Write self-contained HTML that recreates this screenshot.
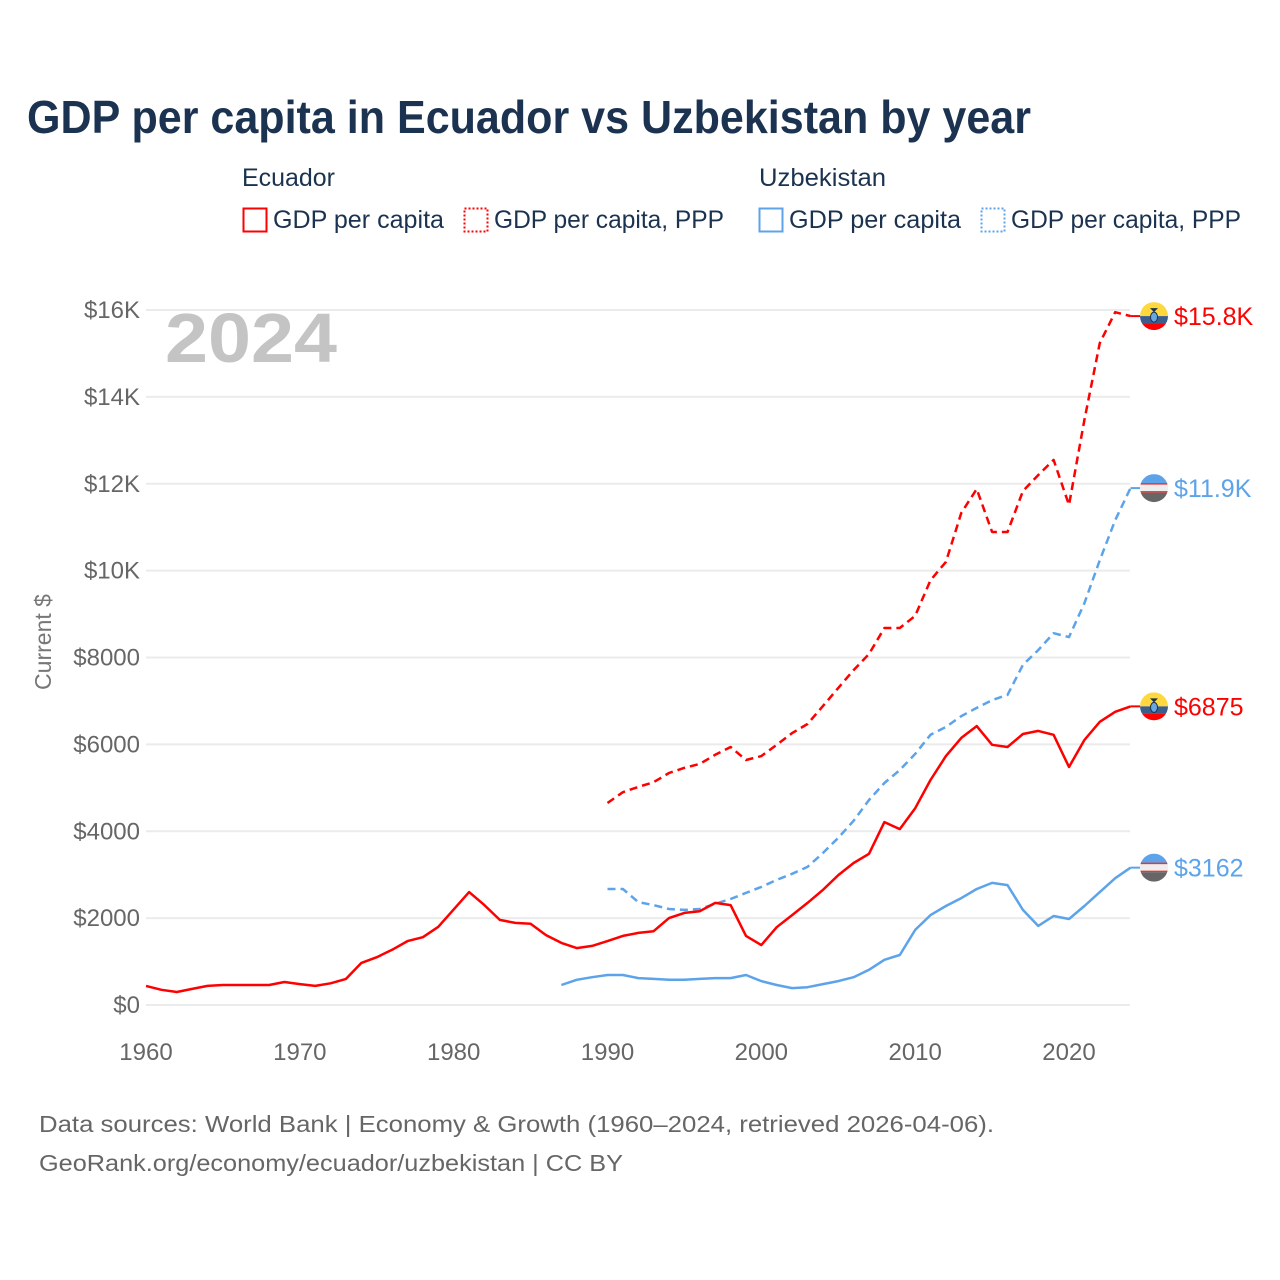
<!DOCTYPE html>
<html><head><meta charset="utf-8"><style>
html,body{margin:0;padding:0;background:#fff;}
svg{display:block;font-family:"Liberation Sans",sans-serif;}
</style></head><body>
<svg id="chart" width="1280" height="1280" viewBox="0 0 1280 1280">
<text x="27" y="133" font-size="46" font-weight="bold" fill="#1b3350" textLength="1004" lengthAdjust="spacingAndGlyphs">GDP per capita in Ecuador vs Uzbekistan by year</text>
<g font-size="25" fill="#1b3350">
<text x="242" y="186" textLength="93" lengthAdjust="spacingAndGlyphs">Ecuador</text>
<text x="759" y="186" textLength="127" lengthAdjust="spacingAndGlyphs">Uzbekistan</text>
<g><rect x="243.5" y="208.5" width="23" height="23" fill="none" stroke="#ff0000" stroke-width="2"/><text x="273" y="228" textLength="171" lengthAdjust="spacingAndGlyphs">GDP per capita</text></g>
<g><rect x="464.5" y="208.5" width="23" height="23" fill="none" stroke="#ff0000" stroke-width="2" stroke-dasharray="2,2"/><text x="494" y="228" textLength="230" lengthAdjust="spacingAndGlyphs">GDP per capita, PPP</text></g>
<g><rect x="759.5" y="208.5" width="23" height="23" fill="none" stroke="#5ca3ea" stroke-width="2"/><text x="789" y="228" textLength="172" lengthAdjust="spacingAndGlyphs">GDP per capita</text></g>
<g><rect x="981.5" y="208.5" width="23" height="23" fill="none" stroke="#5ca3ea" stroke-width="2" stroke-dasharray="2,2"/><text x="1011" y="228" textLength="230" lengthAdjust="spacingAndGlyphs">GDP per capita, PPP</text></g>
</g>
<g id="grid"></g>
<g id="yticks" font-size="24" fill="#666" text-anchor="end"></g>
<g id="xticks" font-size="24" fill="#666" text-anchor="middle"></g>
<text x="0" y="0" transform="translate(51,642) rotate(-90)" font-size="23" fill="#777" text-anchor="middle">Current $</text>
<text x="165" y="362" font-size="70" font-weight="bold" fill="#c4c4c4" textLength="172" lengthAdjust="spacingAndGlyphs">2024</text>
<g id="series"></g>
<g id="ends"></g>
<g font-size="23" fill="#666">
<text x="39" y="1132" textLength="955" lengthAdjust="spacingAndGlyphs">Data sources: World Bank | Economy &amp; Growth (1960–2024, retrieved 2026-04-06).</text>
<text x="39" y="1171" textLength="584" lengthAdjust="spacingAndGlyphs">GeoRank.org/economy/ecuador/uzbekistan | CC BY</text>
</g>
</svg>
<script>
const ecuGdpStart = 1960;
const ecuGdp = [440,350,300,370,440,460,460,460,460,530,480,440,500,600,970,1100,1270,1470,1560,1800,2200,2600,2300,1960,1890,1870,1610,1430,1310,1360,1470,1590,1660,1700,2000,2120,2160,2350,2300,1590,1380,1790,2070,2350,2650,2990,3270,3480,4210,4050,4530,5180,5730,6150,6420,5990,5940,6240,6310,6220,5480,6100,6520,6750,6875];
const ecuPppStart = 1990;
const ecuPpp = [4650,4900,5020,5130,5340,5460,5550,5760,5940,5640,5730,5990,6260,6470,6880,7300,7710,8080,8680,8680,8960,9780,10200,11330,11880,10890,10890,11830,12200,12550,11510,13470,15240,15950,15860];
const uzbGdpStart = 1987;
const uzbGdp = [460,580,640,690,690,620,600,580,580,600,620,620,690,550,460,390,410,480,550,640,810,1040,1150,1730,2070,2280,2460,2670,2810,2760,2190,1820,2050,1980,2280,2600,2920,3162];
const uzbPppStart = 1990;
const uzbPpp = [2670,2670,2370,2300,2210,2190,2210,2330,2440,2580,2720,2880,3020,3180,3500,3850,4240,4720,5110,5410,5780,6220,6400,6650,6840,7020,7140,7830,8170,8560,8470,9250,10240,11160,11900];
const yTicks = [0,2000,4000,6000,8000,10000,12000,14000,16000];
const yTickLabels = ["$0","$2000","$4000","$6000","$8000","$10K","$12K","$14K","$16K"];
const xTicks = [1960,1970,1980,1990,2000,2010,2020];
const endLabels = ["$15.8K","$11.9K","$6875","$3162"];

const NS="http://www.w3.org/2000/svg";
const X = yr => 146 + (yr-1960)*(1069-146)/60;
const Y = v => 1005 - v*(1005-310)/16000;
function mk(tag, attrs, parent){const e=document.createElementNS(NS,tag);for(const k in attrs)e.setAttribute(k,attrs[k]);parent.appendChild(e);return e;}
const grid=document.getElementById('grid'), yt=document.getElementById('yticks'), xt=document.getElementById('xticks');
yTicks.forEach((v,i)=>{
  const l=mk('line',{x1:146,x2:1130,y1:Y(v),y2:Y(v),stroke:'#ebebeb','stroke-width':2},grid);
  
  
  const t=mk('text',{x:140,y:Y(v)+8},yt); t.textContent=yTickLabels[i];
  
  
});
xTicks.forEach(yr=>{
  const t=mk('text',{x:X(yr),y:1060},xt); t.textContent=yr;
  
  
});
const ser=document.getElementById('series');
function line(data,start,color,dash,name){
  const d=data.map((v,i)=>(i?'L':'M')+X(start+i).toFixed(1)+','+Y(v).toFixed(1)).join('');
  const p=mk('path',{d:d,fill:'none',stroke:color,'stroke-width':2.5,'stroke-linejoin':'round'},ser);
  if(dash)p.setAttribute('stroke-dasharray',dash);
  
  
  return Y(data[data.length-1]);
}
const yUp=line(uzbPpp,uzbPppStart,'#5ca3ea','8,5','uzbekistan-ppp-line');
const yUg=line(uzbGdp,uzbGdpStart,'#5ca3ea','','uzbekistan-gdp-line');
const yEp=line(ecuPpp,ecuPppStart,'#ff0000','8,5','ecuador-ppp-line');
const yEg=line(ecuGdp,ecuGdpStart,'#ff0000','','ecuador-gdp-line');
const ends=document.getElementById('ends');
function flag(y,isEcu,label,color,name){
  const g=mk('g',{},ends);
  
  
  mk('line',{x1:X(2024),x2:1140,y1:y,y2:y,stroke:color,'stroke-width':2},g);
  const cx=1154, r=14, id='c'+Math.round(y);
  const cp=mk('clipPath',{id:id},g); mk('circle',{cx:cx,cy:y,r:r},cp);
  const f=mk('g',{'clip-path':'url(#'+id+')'},g);
  if(isEcu){
    mk('rect',{x:cx-r,y:y-r,width:28,height:14,fill:'#ffd83d'},f);
    mk('rect',{x:cx-r,y:y,width:28,height:7,fill:'#3b5e8c'},f);
    mk('rect',{x:cx-r,y:y+7,width:28,height:7,fill:'#ff0000'},f);
    mk('ellipse',{cx:cx,cy:y+1,rx:3.5,ry:5,fill:'#6aa7e0',stroke:'#1b3350','stroke-width':1},f);
    mk('path',{d:`M${cx-4},${y-8}L${cx+4},${y-8}L${cx},${y-4}Z`,fill:'#1b3350'},f);
  } else {
    mk('rect',{x:cx-r,y:y-r,width:28,height:10,fill:'#5ca3ea'},f);
    mk('rect',{x:cx-r,y:y-4,width:28,height:8,fill:'#eee'},f);
    mk('rect',{x:cx-r,y:y-5,width:28,height:1.5,fill:'#e33'},f);
    mk('rect',{x:cx-r,y:y+3,width:28,height:1.5,fill:'#e33'},f);
    mk('rect',{x:cx-r,y:y+4.5,width:28,height:10,fill:'#666'},f);
  }
  const t=mk('text',{x:1174,y:y+9,'font-size':25,fill:color},g); t.textContent=label;
}
flag(yEp,true,endLabels[0],'#ff0000','end-label-ecuador-ppp');
flag(yUp,false,endLabels[1],'#5ca3ea','end-label-uzbekistan-ppp');
flag(yEg,true,endLabels[2],'#ff0000','end-label-ecuador-gdp');
flag(yUg,false,endLabels[3],'#5ca3ea','end-label-uzbekistan-gdp');
</script>
</body></html>
